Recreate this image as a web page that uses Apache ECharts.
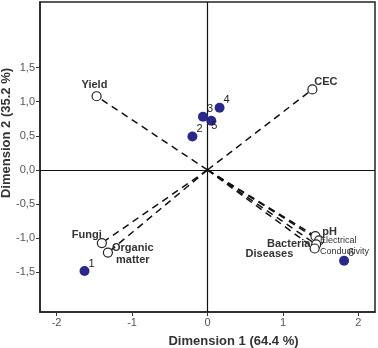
<!DOCTYPE html>
<html>
<head>
<meta charset="utf-8">
<script src="https://cdn.jsdelivr.net/npm/echarts@6/dist/echarts.min.js"></script>
<style>
  html, body { margin: 0; padding: 0; background: #fff; }
  #chart { width: 378px; height: 348px; }
</style>
</head>
<body>
<div id="chart"></div>
<script>
// variable loadings (open circles, dashed vectors from origin)
var varNames = ['Yield', 'CEC', 'Fungi', 'Organic\nmatter', 'pH', 'Electrical\nConductivity', 'Bacteria', 'Diseases'];
var varX = [-1.47, 1.39, -1.40, -1.32, 1.43, 1.48, 1.44, 1.42];
var varY = [1.08, 1.18, -1.07, -1.21, -0.97, -1.03, -1.09, -1.15];

// observation scores (filled dots)
var obsNames = ['1', '2', '3', '4', '5', '6'];
var obsX = [-1.63, -0.20, -0.06, 0.16, 0.05, 1.81];
var obsY = [-1.48, 0.49, 0.78, 0.91, 0.72, -1.33];

var xTicks = [-2, -1, 0, 1, 2];
var yTicks = [-1.5, -1.0, -0.5, 0.0, 0.5, 1.0, 1.5];

// label placement for each variable
var varLabel = {
    'Yield': { position: [-10, -12], align: 'left' },
    'CEC': { position: [7, -8], align: 'left' },
    'Fungi': { position: [-25, -9], align: 'left' },
    'Organic\nmatter': { position: [30, -6], align: 'center' },
    'pH': { position: [12, -5], align: 'left' },
    'Electrical\nConductivity': { position: [6, 0], align: 'left', fontWeight: 'normal', fontSize: 9, lineHeight: 11, fontFamily: 'Liberation Sans Narrow, Arial Narrow, sans-serif' },
    'Bacteria': { position: [-44, -1], align: 'left' },
    'Diseases': { position: [-64, 5], align: 'left' }
};

var series = [];

series.push({
    type: 'scatter',
    data: obsX.map(function (x, i) { return { value: [x, obsY[i]], name: obsNames[i] }; }),
    symbolSize: 10,
    itemStyle: { color: '#2a2888', opacity: 1 },
    label: {
        show: true,
        formatter: '{b}',
        position: [9, -8],
        fontSize: 11,
        color: '#222',
        fontFamily: 'Liberation Sans, Arial, sans-serif'
    },
    z: 5,
    markLine: {
        silent: true,
        symbol: 'none',
        label: { show: false },
        lineStyle: { color: '#111', type: 'solid', width: 1.2 },
        data: [{ xAxis: 0 }, { yAxis: 0 }]
    }
});
// label tweak for "5" (sits below right)
series[0].data[4].label = { position: [5, 5] };

varNames.forEach(function (n, i) {
    var lab = varLabel[n];
    series.push({
        type: 'line',
        data: [
            { value: [0, 0], symbol: 'none' },
            {
                value: [varX[i], varY[i]], name: n,
                label: Object.assign({
                    show: true,
                    formatter: '{b}',
                    fontSize: 11,
                    fontWeight: 'bold',
                    color: '#333',
                    lineHeight: 12,
                    fontFamily: 'Liberation Sans, Arial, sans-serif'
                }, lab)
            }
        ],
        symbol: 'circle',
        symbolSize: 9,
        showSymbol: true,
        itemStyle: { color: '#fff', borderColor: '#222', borderWidth: 1.2 },
        lineStyle: { color: '#111', width: 1.5, type: [7, 5] },
        z: 3
    });
});

var chart = echarts.init(document.getElementById('chart'));
chart.setOption({
    animation: false,
    backgroundColor: '#fff',
    grid: {
        left: 40, right: 3, top: 2, bottom: 36,
        containLabel: false,
        outerBoundsMode: 'none',
        show: true, borderColor: '#222', borderWidth: 1.5
    },
    xAxis: {
        type: 'value',
        min: -2.22, max: 2.22,
        name: 'Dimension 1 (64.4 %)',
        nameLocation: 'middle',
        nameGap: 23,
        nameMoveOverlap: false,
        nameTextStyle: { fontSize: 13, fontWeight: 'bold', color: '#333', padding: [0, 0, 0, 52], fontFamily: 'Liberation Sans, Arial, sans-serif' },
        splitLine: { show: false },
        axisLine: { onZero: false, lineStyle: { color: '#222', width: 1.5 } },
        axisTick: { show: true, length: 4, customValues: xTicks, lineStyle: { color: '#333' } },
        axisLabel: { customValues: xTicks, fontSize: 11, color: '#555', margin: 5, fontFamily: 'Liberation Sans, Arial, sans-serif' }
    },
    yAxis: {
        type: 'value',
        min: -2.08, max: 2.46,
        name: 'Dimension 2 (35.2 %)',
        nameLocation: 'middle',
        nameGap: 27,
        nameMoveOverlap: false,
        nameTextStyle: { fontSize: 13, fontWeight: 'bold', color: '#333', padding: [0, 0, 0, 48], fontFamily: 'Liberation Sans, Arial, sans-serif' },
        splitLine: { show: false },
        axisLine: { onZero: false, lineStyle: { color: '#222', width: 1.5 } },
        axisTick: { show: true, length: 4, customValues: yTicks, lineStyle: { color: '#333' } },
        axisLabel: {
            customValues: yTicks, fontSize: 11, color: '#555', margin: 5,
            fontFamily: 'Liberation Sans, Arial, sans-serif',
            formatter: function (v) { return v.toFixed(1).replace('.', ','); }
        }
    },
    series: series
});
</script>
</body>
</html>
